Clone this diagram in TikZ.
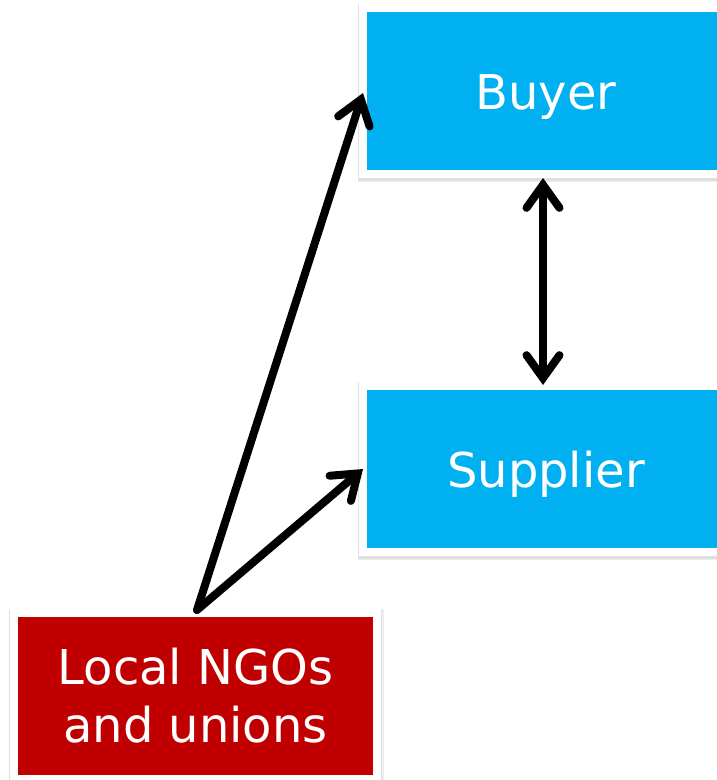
\documentclass[tikz,border=0pt]{standalone}
\usepackage{fontspec}
\setmainfont{DejaVu Sans}
\usetikzlibrary{arrows.meta}
\definecolor{boxblue}{HTML}{00B0F0}
\definecolor{boxred}{HTML}{C00000}
\begin{document}
\begin{tikzpicture}[x=1pt,y=-1pt,
  box/.style={rectangle, draw=white, line width=8pt, inner sep=0pt,
    text=white, align=center,
    font=\fontsize{48}{58}\selectfont,
    preaction={draw=black!7, line width=12pt, transform canvas={xshift=0.5pt,yshift=-1.5pt}},
    preaction={draw=black!12, line width=10pt, transform canvas={yshift=-1.5pt}}},
  single/.style={text height=37pt, text depth=0pt},
  link/.style={line width=8pt, line cap=round, -{Straight Barb[length=23pt, width=33pt, line cap=round]}},
  dlink/.style={line width=8pt, line cap=round,
    {Straight Barb[length=23pt, width=33pt, line cap=round]}-{Straight Barb[length=23pt, width=33pt, line cap=round]}}]
\useasboundingbox (0,0) rectangle (716,780);
\node[box, single, fill=boxblue, minimum width=366pt, minimum height=166pt] (buyer) at (546,91) {Buyer};
\node[box, single, fill=boxblue, minimum width=366pt, minimum height=166pt] (supplier) at (546,469) {Supplier};
\node[box, fill=boxred, minimum width=363pt, minimum height=166pt] (ngo) at (195.5,696) {Local NGOs\\and unions};
\coordinate (src) at ([xshift=1.5pt,yshift=-1pt]ngo.north);
\draw[link] (src) -- ([xshift=4pt,yshift=-2pt]buyer.west);
\draw[link] (src) -- ([xshift=4pt]supplier.west);
\draw[dlink] ([xshift=-3pt]buyer.south) -- ([xshift=-3pt,yshift=-3pt]supplier.north);
\end{tikzpicture}
\end{document}
